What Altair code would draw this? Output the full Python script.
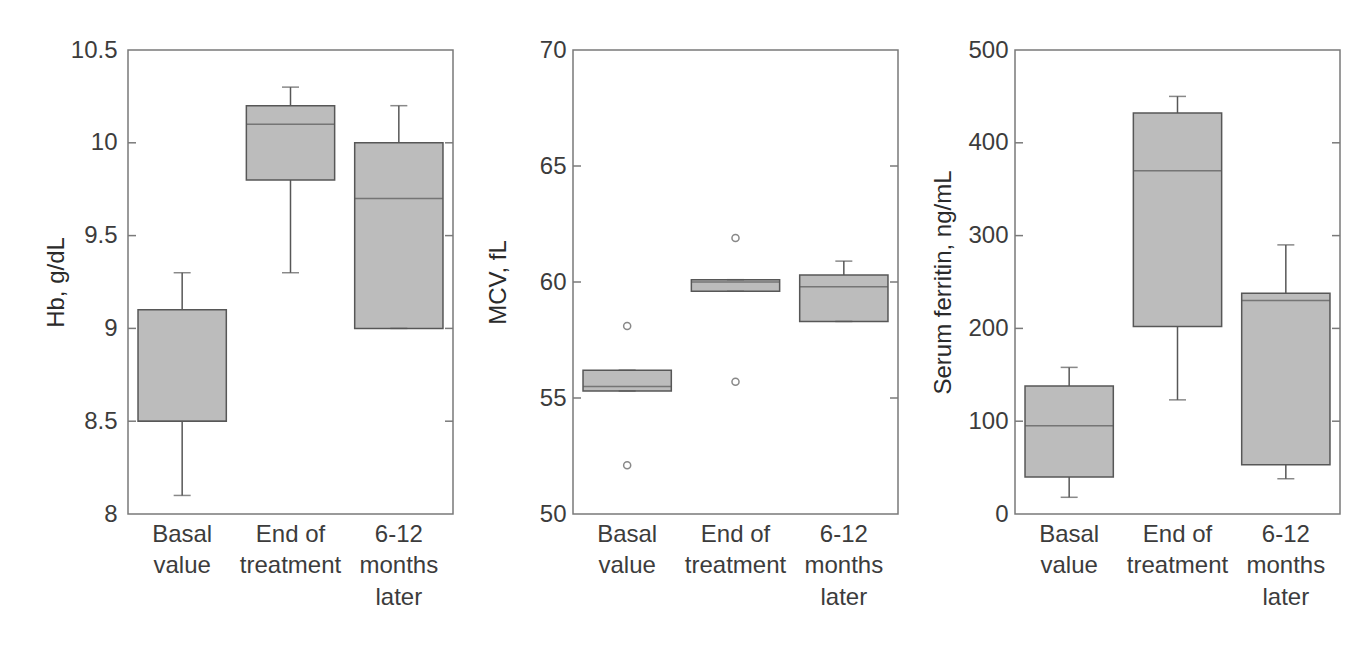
import altair as alt
import pandas as pd

categories = ["Basal|value", "End of|treatment", "6-12|months|later"]

# Hb, g/dL
hb_low = [8.1, 9.3, 9.0]
hb_q1 = [8.5, 9.8, 9.0]
hb_median = [8.5, 10.1, 9.7]
hb_q3 = [9.1, 10.2, 10.0]
hb_high = [9.3, 10.3, 10.2]
hb_out_cat = []
hb_out_val = []
hb_ticks = [8, 8.5, 9, 9.5, 10, 10.5]

# MCV, fL
mcv_low = [55.3, 59.6, 58.3]
mcv_q1 = [55.3, 59.6, 58.3]
mcv_median = [55.5, 60.0, 59.8]
mcv_q3 = [56.2, 60.1, 60.3]
mcv_high = [56.2, 60.1, 60.9]
mcv_out_cat = ["Basal|value", "Basal|value", "End of|treatment", "End of|treatment"]
mcv_out_val = [58.1, 52.1, 61.9, 55.7]
mcv_ticks = [50, 55, 60, 65, 70]

# Serum ferritin, ng/mL
fer_low = [18, 123, 38]
fer_q1 = [40, 202, 53]
fer_median = [95, 370, 230]
fer_q3 = [138, 432, 238]
fer_high = [158, 450, 290]
fer_out_cat = []
fer_out_val = []
fer_ticks = [0, 100, 200, 300, 400, 500]

FONT = "Liberation Sans Narrow, Arial Narrow, Liberation Sans, sans-serif"
BOX_FILL = "#bcbcbc"
EDGE = "#575757"
TEXT = "#3c3c3c"
W, H = 325, 464


def panel(title, low, q1, med, q3, high, out_cat, out_val, ticks, title_x, label_pad):
    df = pd.DataFrame({"cat": categories, "low": low, "q1": q1, "med": med,
                       "q3": q3, "high": high})
    yscale = alt.Scale(domain=[ticks[0], ticks[-1]], nice=False, zero=False)
    yaxis = alt.Axis(values=ticks, labelExpr="toString(datum.value)", ticks=False,
                     domain=False, grid=False, labelPadding=label_pad, title=title,
                     titleX=title_x, titleBaseline="middle", titleAngle=270)
    xenc = alt.X("cat:N", sort=categories,
                 scale=alt.Scale(paddingInner=0, paddingOuter=0),
                 axis=alt.Axis(title=None, ticks=False, domain=False, grid=False,
                               labelAngle=0, labelExpr="split(datum.label, '|')",
                               labelLineHeight=31.5, labelPadding=8, labelBaseline="top"))

    def Y(field):
        return alt.Y(field, type="quantitative", scale=yscale, axis=yaxis)

    base = alt.Chart(df)
    whisk_up = base.mark_rule(color=EDGE, strokeWidth=1.5).encode(x=xenc, y=Y("q3"), y2="high")
    whisk_dn = base.mark_rule(color=EDGE, strokeWidth=1.5).encode(x=xenc, y=Y("low"), y2="q1")
    box = base.mark_bar(width=alt.RelativeBandSize(0.815), fill=BOX_FILL, stroke=EDGE,
                        strokeWidth=1.5).encode(x=xenc, y=Y("q1"), y2="q3")
    median = base.mark_tick(size=88, thickness=1.5, color=EDGE).encode(x=xenc, y=Y("med"))
    cap_hi = base.mark_tick(size=17, thickness=1.5, color=EDGE).encode(x=xenc, y=Y("high"))
    cap_lo = base.mark_tick(size=17, thickness=1.5, color=EDGE).encode(x=xenc, y=Y("low"))
    layers = [whisk_up, whisk_dn, box, median, cap_hi, cap_lo]

    if out_val:
        odf = pd.DataFrame({"cat": out_cat, "v": out_val})
        layers.append(alt.Chart(odf).mark_point(shape="circle", filled=False, size=50,
                                                strokeWidth=1.5, color=EDGE)
                      .encode(x=xenc, y=Y("v")))

    tdf = pd.DataFrame({"v": ticks[1:-1]})
    tick_l = alt.Chart(tdf).mark_rule(color="#7a7a7a", strokeWidth=1.5).encode(
        x=alt.value(0), x2=alt.value(8), y=Y("v"))
    tick_r = alt.Chart(tdf).mark_rule(color="#7a7a7a", strokeWidth=1.5).encode(
        x=alt.value(W - 8), x2=alt.value(W), y=Y("v"))
    layers += [tick_l, tick_r]
    return alt.layer(*layers).properties(width=W, height=H)


p1 = panel("Hb, g/dL", hb_low, hb_q1, hb_median, hb_q3, hb_high,
           hb_out_cat, hb_out_val, hb_ticks, -71.5, 11)
p2 = panel("MCV, fL", mcv_low, mcv_q1, mcv_median, mcv_q3, mcv_high,
           mcv_out_cat, mcv_out_val, mcv_ticks, -75, 7)
p3 = panel("Serum ferritin, ng/mL", fer_low, fer_q1, fer_median, fer_q3, fer_high,
           fer_out_cat, fer_out_val, fer_ticks, -71.5, 7)

chart = (
    alt.hconcat(p1, p2, p3, spacing=30)
    .properties(padding={"left": 35, "top": 29, "right": 5, "bottom": 5}, background="white")
    .configure_view(stroke="#7a7a7a", strokeWidth=1.5)
    .configure_axis(labelFont=FONT, titleFont=FONT, labelFontSize=24, titleFontSize=24,
                    labelColor=TEXT, titleColor="#2a2a2a", labelFontWeight="normal",
                    titleFontWeight="normal")
)

chart.save("out.html", embed_options={"renderer": "svg", "actions": False})
